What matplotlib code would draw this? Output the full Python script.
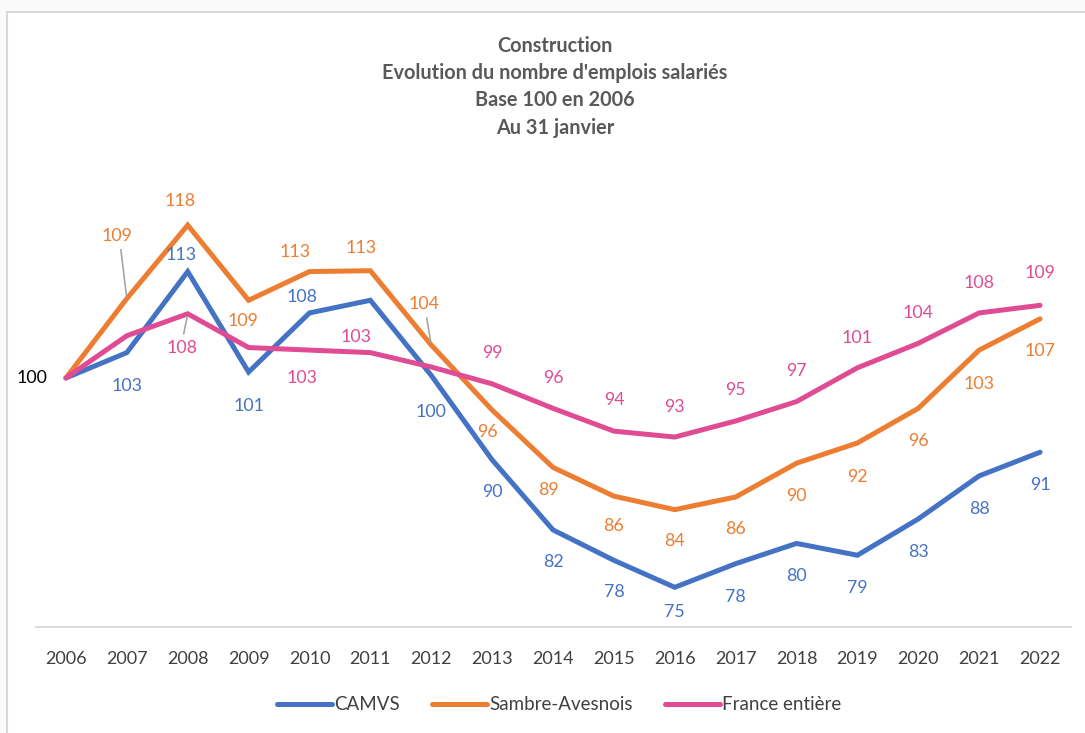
import matplotlib.pyplot as plt
from matplotlib.patches import Rectangle

plt.rcParams['font.family'] = ['Lato', 'DejaVu Sans']

# Données (base 100 en 2006)
annees = list(range(2006, 2023))
camvs = [100, 103.0, 112.6, 100.7, 107.7, 109.2, 100.3, 90.3, 82.0, 78.4, 75.2,
         78.0, 80.4, 79.0, 83.3, 88.4, 91.2]
sambre = [100, 109.4, 118.1, 109.2, 112.6, 112.7, 103.9, 96.2, 89.4, 86.0, 84.4,
          85.9, 89.9, 92.3, 96.4, 103.3, 107.0]
france = [100, 105.0, 107.6, 103.6, 103.3, 103.0, 101.3, 99.3, 96.4, 93.7, 93.0,
          94.9, 97.2, 101.2, 104.1, 107.7, 108.6]

bleu = '#4472C4'
orange = '#ED7D31'
rose = '#E04C94'

# décalage des étiquettes (pixels), None = pas d'étiquette, 'L' = avec trait de rappel
lab_camvs = [None, (0, -33), (-7, 17), (0, -34), (-7, 16), None, (0, -37), (0, -32),
             (0, -32), (0, -32), (0, -25), (0, -33), (0, -33), (0, -33), (0, -33),
             (0, -33), (0, -33)]
lab_sambre = [None, (-10, 63, 'L'), (-8, 24), (-6, -21), (-14, 20), (-9, 23), (-7, 41, 'L'),
              (-5, -22), (-5, -23), (0, -30), (0, -31), (0, -32), (0, -33), (0, -34),
              (0, -33), (0, -34), (0, -32)]
lab_france = [None, None, (-6, -34, 'L'), None, (-7, -28), (-14, 16), None, (0, 31),
              (0, 30), (0, 31), (0, 30), (0, 31), (0, 31), (0, 30), (0, 30), (0, 30), (0, 32)]

fig = plt.figure(figsize=(10.85, 7.33), dpi=100)
fig.patch.set_facecolor('#fafafa')
fig.patches.append(Rectangle((7 / 1085, -0.1), 1.2, (733 - 12) / 733 + 0.1,
                             transform=fig.transFigure, facecolor='white',
                             edgecolor='#d9d9d9', linewidth=1.5, zorder=-10))

ax = fig.add_axes([35.5 / 1085, (733 - 627) / 733, 1035 / 1085, (627 - 150) / 733])
ax.set_facecolor('none')
ax.set_zorder(5)

series = [('CAMVS', camvs, bleu, lab_camvs),
          ('Sambre-Avesnois', sambre, orange, lab_sambre),
          ('France entière', france, rose, lab_france)]

for nom, vals, col, labs in series:
    ax.plot(annees, vals, color=col, lw=3.6, solid_joinstyle='miter', label=nom,
            solid_capstyle='round')
    for x, v, lab in zip(annees, vals, labs):
        if lab is None:
            continue
        dx, dy = lab[0], lab[1]
        ax.annotate(f'{round(v)}', (x, v), xytext=(dx, dy), textcoords='offset pixels',
                    ha='center', va='center', color=col, fontsize=12.8)
        if len(lab) > 2:
            # trait de rappel gris
            sgn = 1 if dy > 0 else -1
            ax.annotate('', (x, v), xytext=(dx * 0.5 - 1, dy - sgn * 14),
                        textcoords='offset pixels',
                        arrowprops=dict(arrowstyle='-', color='#a6a6a6', lw=1.2,
                                        shrinkA=0, shrinkB=2))

ax.annotate('100', (2006, 100), xytext=(-34, 0), textcoords='offset pixels',
            ha='center', va='center', color='black', fontsize=12.8)

ax.set_xlim(2005.5, 2022.5)
ax.set_ylim(70.5, 127.0)
ax.set_xticks(annees)
ax.set_xticklabels([str(a) for a in annees])
ax.set_yticks([])
ax.tick_params(axis='x', length=0, pad=17, labelsize=13, labelcolor='#404040')
for s in ['top', 'right', 'left']:
    ax.spines[s].set_visible(False)
ax.spines['bottom'].set_color('#d9d9d9')
ax.spines['bottom'].set_linewidth(1.3)

titre = "Construction\nEvolution du nombre d'emplois salariés\nBase 100 en 2006\nAu 31 janvier"
fig.text(555 / 1085, 1 - 36 / 733, titre, ha='center', va='top', fontsize=14.3,
         fontweight='bold', color='#595959', linespacing=1.45)

leg = fig.legend(loc='center', bbox_to_anchor=(559 / 1085, 1 - 705 / 733), ncol=3,
                 frameon=False, fontsize=13.5, handlelength=2.95, columnspacing=1.7,
                 handletextpad=0.12)
for t in leg.get_texts():
    t.set_color('#404040')

fig.savefig('out.png', dpi=100, facecolor=fig.get_facecolor())
